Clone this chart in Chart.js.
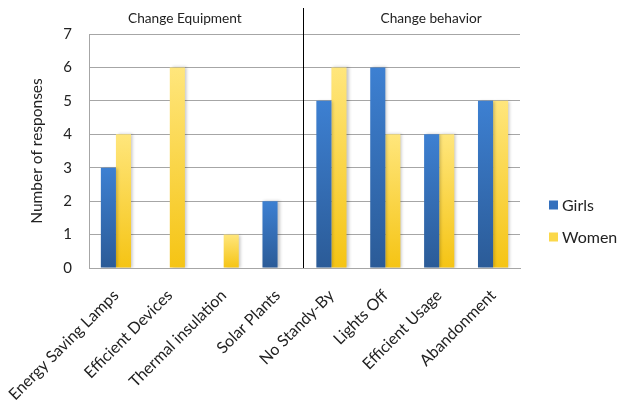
<!DOCTYPE html>
<html>
<head>
<meta charset="utf-8">
<script src="https://cdn.jsdelivr.net/npm/chart.js@4/dist/chart.umd.min.js"></script>
<style>
  html, body { margin: 0; padding: 0; background: #ffffff; }
  #wrap { width: 619px; height: 402px; }
</style>
</head>
<body>
<div id="wrap"><canvas id="c" width="619" height="402"></canvas></div>
<script>
// Survey: measures to save energy, split by respondent group
const categories = ["Energy Saving Lamps", "Efficient Devices", "Thermal insulation", "Solar Plants",
                    "No Standy-By", "Lights Off", "Efficient Usage", "Abandonment"];
const girls = [3, 0, 0, 2, 5, 6, 4, 5];
const women = [4, 6, 1, 0, 6, 4, 4, 5];
const seriesNames = ["Girls", "Women"];
const groupTitles = ["Change Equipment", "Change behavior"];
const yTicks = [0, 1, 2, 3, 4, 5, 6, 7];

const FONT = "Lato, 'Open Sans', sans-serif";

// vertical gradient per bar: light at the top, saturated at the base
function barGradient(top, bottom) {
  return function (ctx) {
    const chart = ctx.chart;
    if (!chart.chartArea || ctx.type !== 'data') return bottom;
    const y = chart.scales.y;
    const yTop = y.getPixelForValue(ctx.parsed ? ctx.parsed.y : 0);
    const yBase = y.getPixelForValue(0);
    if (!isFinite(yTop) || Math.abs(yBase - yTop) < 1) return bottom;
    const g = chart.ctx.createLinearGradient(0, yTop, 0, yBase);
    g.addColorStop(0, top);
    g.addColorStop(1, bottom);
    return g;
  };
}
const swatch = ["#3470bd", "#fbd84a"];

// soft drop shadow to the right of every bar
const barShadow = {
  id: 'barShadow',
  beforeDatasetsDraw(chart) {
    const c = chart.ctx;
    c.save();
    c.shadowColor = 'rgba(0,0,0,0.22)';
    c.shadowBlur = 3;
    c.shadowOffsetX = 2;
    c.shadowOffsetY = 0;
  },
  afterDatasetsDraw(chart) { chart.ctx.restore(); }
};

// group headings, divider between the two groups, and legend
const decorations = {
  id: 'decorations',
  afterDraw(chart) {
    const c = chart.ctx;
    const x = chart.scales.x;
    const area = chart.chartArea;
    c.save();
    // divider between equipment and behaviour measures
    const xd = Math.round(x.getPixelForValue(3.5)) - 1.5;
    c.strokeStyle = '#000000';
    c.lineWidth = 1;
    c.beginPath();
    c.moveTo(xd, 8);
    c.lineTo(xd, area.bottom);
    c.stroke();
    // group headings
    c.fillStyle = '#222222';
    c.font = "13.7px " + FONT;
    c.textAlign = 'center';
    c.textBaseline = 'middle';
    c.fillText(groupTitles[0], x.getPixelForValue(1.28), 19);
    c.fillText(groupTitles[1], x.getPixelForValue(5.85), 19);
    // legend
    c.font = "16px " + FONT;
    c.textAlign = 'left';
    chart.data.datasets.forEach((ds, i) => {
      const ly = 205 + i * 32;
      c.fillStyle = swatch[i];
      c.fillRect(549, ly - 4.5, 9, 9);
      c.fillStyle = '#222222';
      c.fillText(ds.label, 562, ly + 1);
    });
    c.restore();
  }
};

new Chart(document.getElementById('c'), {
  type: 'bar',
  data: {
    labels: categories,
    datasets: [
      { label: seriesNames[0], data: girls, backgroundColor: barGradient('#3d80d2', '#2b5b97') },
      { label: seriesNames[1], data: women, backgroundColor: barGradient('#ffe67c', '#f5c414') }
    ]
  },
  options: {
    responsive: false,
    animation: false,
    events: [],
    layout: { padding: { top: 34, right: 99, left: 0, bottom: 0 } },
    datasets: { bar: { categoryPercentage: 0.56, barPercentage: 1.0, borderWidth: 0 } },
    plugins: { legend: { display: false }, tooltip: { enabled: false } },
    scales: {
      x: {
        afterFit(scale) {
          scale.height = 402 - 268;
          scale.paddingLeft = 0;
          scale.paddingRight = 0;
        },
        grid: { display: false, drawTicks: false },
        border: { display: true, color: '#a6a6a6' },
        ticks: {
          minRotation: 45, maxRotation: 45, autoSkip: false, padding: 18,
          color: '#222222', font: { family: FONT, size: 16 }
        }
      },
      y: {
        min: 0, max: 7,
        afterFit(scale) { scale.width = 89; },
        afterBuildTicks(scale) { scale.ticks = yTicks.map(v => ({ value: v })); },
        grid: { color: '#a6a6a6', drawTicks: false },
        border: { display: true, color: '#a6a6a6' },
        ticks: { padding: 17, color: '#222222', font: { family: FONT, size: 15 } },
        title: {
          display: true, text: 'Number of responses', color: '#222222',
          font: { family: FONT, size: 15.5 }, padding: { top: 28, bottom: 0 }
        }
      }
    }
  },
  plugins: [barShadow, decorations]
});
</script>
</body>
</html>
